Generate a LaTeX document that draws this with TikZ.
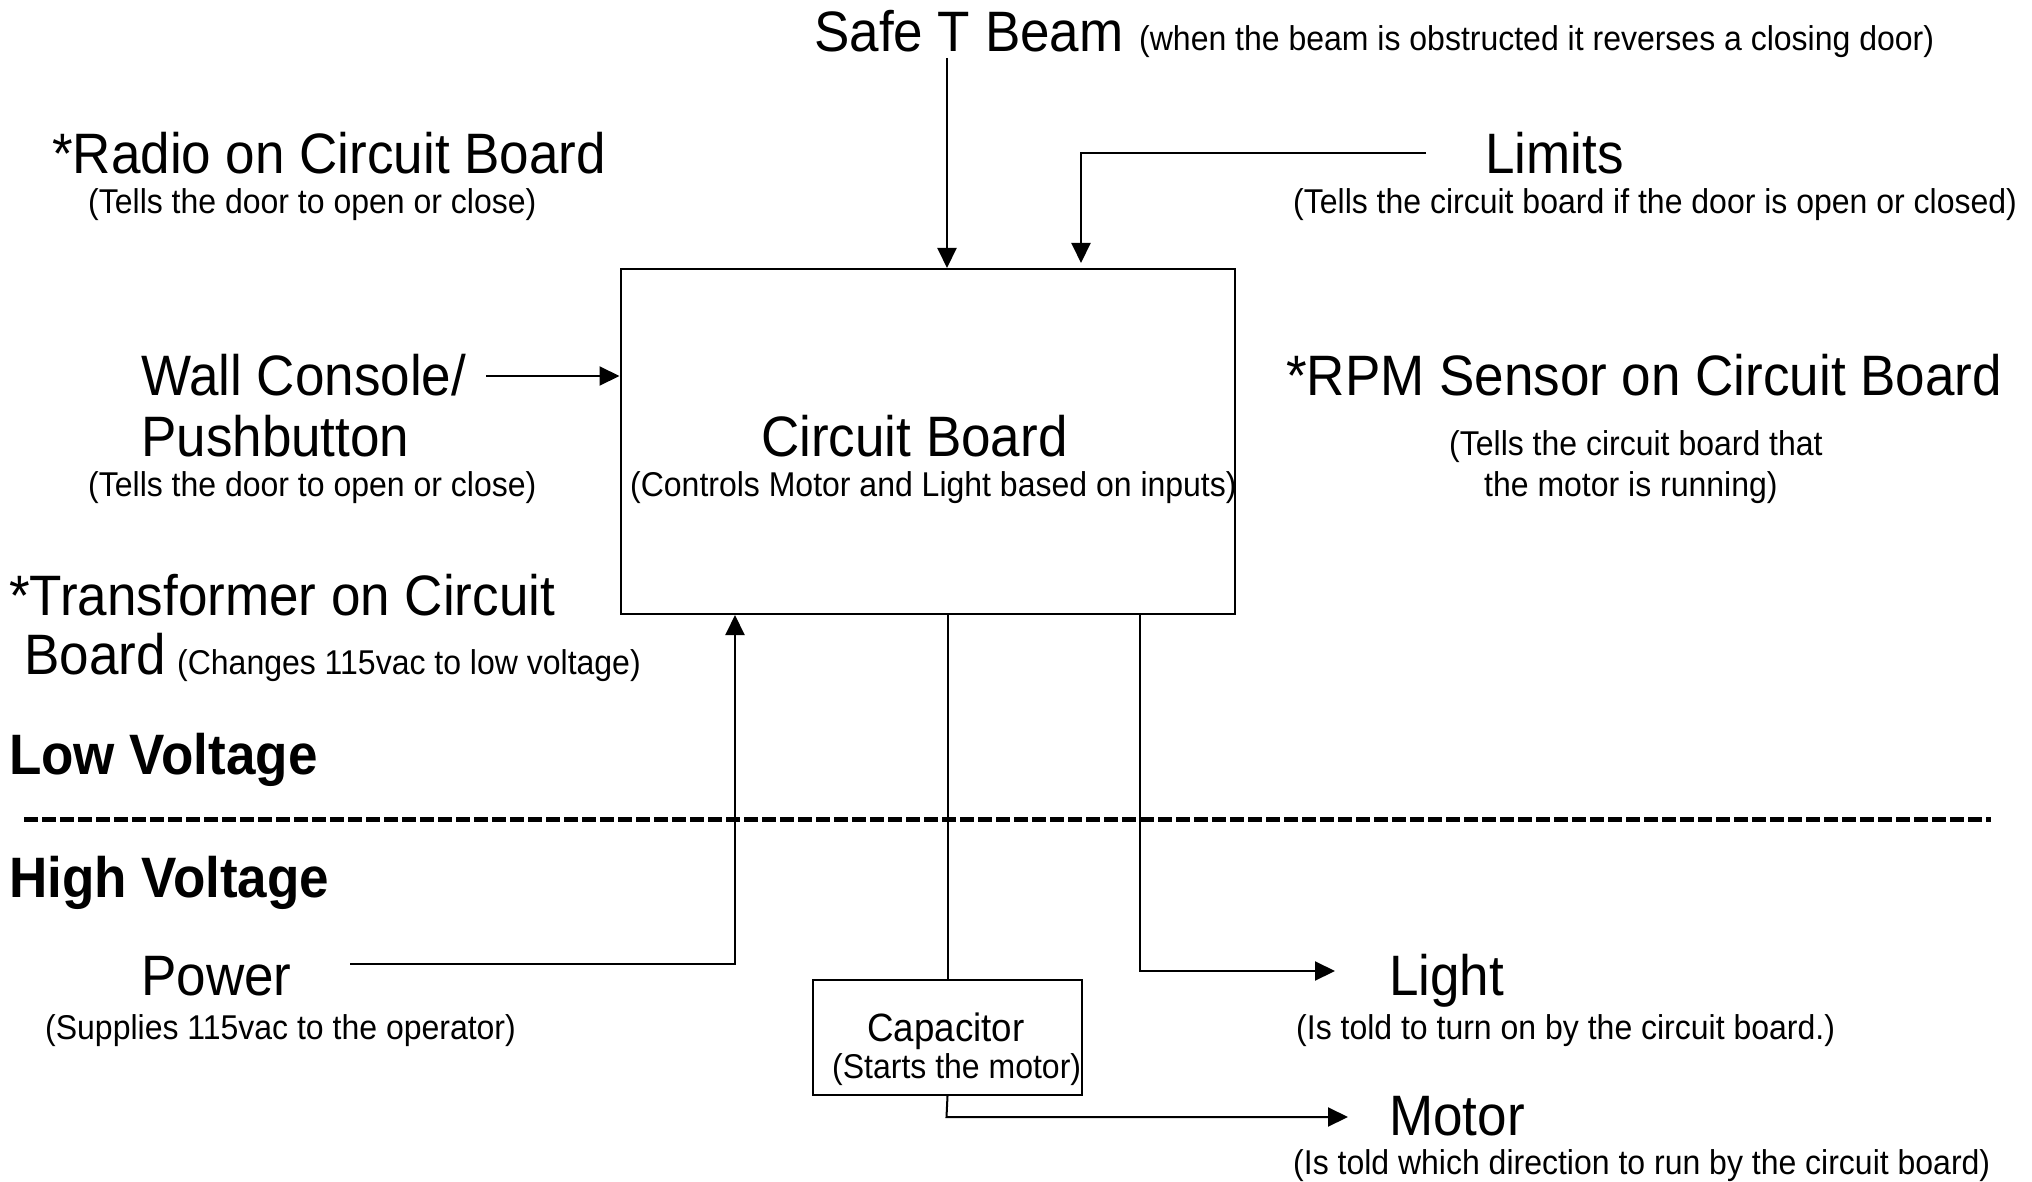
\documentclass[tikz,border=0pt]{standalone}
\usepackage{fontspec}
\setmainfont{Liberation Sans}[FakeStretch=0.93]
\usetikzlibrary{arrows.meta}
\begin{document}
\begin{tikzpicture}[x=1pt,y=-1pt,
  big/.style={font=\fontsize{57}{62}\selectfont, anchor=base west, inner sep=0pt},
  small/.style={font=\fontsize{34.4}{38}\selectfont, anchor=base west, inner sep=0pt},
  mid/.style={font=\fontsize{39.5}{44}\selectfont, anchor=base west, inner sep=0pt},
  boldlbl/.style={font=\fontsize{57}{62}\selectfont\bfseries, anchor=base west, inner sep=0pt},
  wire/.style={line width=2pt},
  arr/.style={wire, -{Triangle[length=20pt,width=19pt]}},
  box/.style={draw, line width=2pt, inner sep=0pt, anchor=north west}]
\useasboundingbox[fill=white] (0,0) rectangle (2032,1182);

% boxes
\node[box, minimum width=614pt, minimum height=345pt] (cb) at (619.5,268) {};
\node[box, minimum width=269pt, minimum height=115pt] (cap) at (812,979) {};

% texts
\node[big]   (safe)    at (814,52)   {Safe T Beam};
\node[small] (safed)   at (1139,51)  {(when the beam is obstructed it reverses a closing door)};
\node[big]   (radio)   at (52,174)   {*Radio on Circuit Board};
\node[small] (radiod)  at (88,214)   {(Tells the door to open or close)};
\node[big]   (limits)  at (1485,174) {Limits};
\node[small] (limitsd) at (1293,214) {(Tells the circuit board if the door is open or closed)};
\node[big]   (wall)    at (141,395)  {Wall Console/};
\node[big]   (push)    at (141,456)  {Pushbutton};
\node[small] (walld)   at (88,496)   {(Tells the door to open or close)};
\node[big]   (cbt)     at (761,456)  {Circuit Board};
\node[small] (cbd)     at (630,496)  {(Controls Motor and Light based on inputs)};
\node[big]   (rpm)     at (1286,395) {*RPM Sensor on Circuit Board};
\node[small] (rpmd1)   at (1449,455) {(Tells the circuit board that};
\node[small] (rpmd2)   at (1484,496) {the motor is running)};
\node[big]   (trans)   at (9,615)    {*Transformer on Circuit};
\node[big]   (trans2)  at (24,674)   {Board};
\node[small] (transd)  at (177,674)  {(Changes 115vac to low voltage)};
\node[boldlbl] (low)   at (9,774)    {Low Voltage};
\node[boldlbl] (high)  at (9,897)    {High Voltage};
\node[big]   (power)   at (141,995)  {Power};
\node[small] (powerd)  at (45,1039)  {(Supplies 115vac to the operator)};
\node[mid]   (capt)    at (867,1041) {Capacitor};
\node[small] (capd)    at (832,1078) {(Starts the motor)};
\node[big]   (light)   at (1389,995) {Light};
\node[small] (lightd)  at (1296,1039) {(Is told to turn on by the circuit board.)};
\node[big]   (motor)   at (1389,1135) {Motor};
\node[small] (motord)  at (1293,1174) {(Is told which direction to run by the circuit board)};

% divider
\coordinate (dl) at (24,819);
\coordinate (dr) at (1991,819);
\draw[line width=5pt, dash pattern=on 14pt off 4pt] (dl) -- (dr);

% connectors
\coordinate (sbA) at (947,58);
\draw[arr] (sbA) -- (sbA |- cb.north);
\coordinate (limA) at (1426,153);
\coordinate (limB) at (1081,153);
\coordinate (limC) at (1081,263);
\draw[arr] (limA) -- (limB) -- (limC);
\coordinate (wcA) at (486,376);
\draw[arr] (wcA) -- (wcA -| cb.west);
\coordinate (pwA) at (350,964);
\coordinate (pwB) at (735,964);
\draw[arr] (pwA) -- (pwB) -- (pwB |- cb.south);
\draw[wire] (cap.north |- cb.south) -- (cap.north);
\coordinate (ltB) at (1140,971);
\coordinate (ltC) at (1335,971);
\draw[arr] (ltB |- cb.south) -- (ltB) -- (ltC);
\coordinate (moB) at (946.5,1117);
\coordinate (moC) at (1348,1117);
\draw[arr] (cap.south) -- (moB) -- (moC);
\end{tikzpicture}
\end{document}
